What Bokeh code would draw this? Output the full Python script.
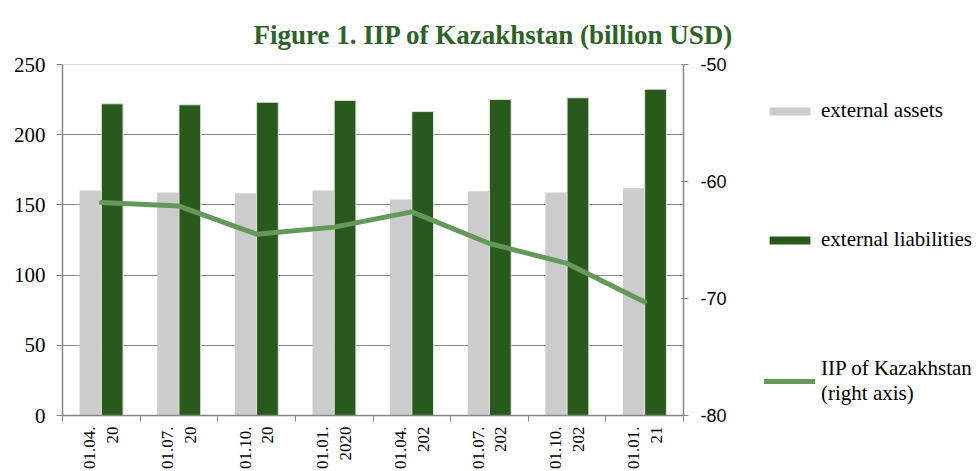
import math
from bokeh.plotting import figure
from bokeh.layouts import row
from bokeh.models import (Range1d, LinearAxis, FixedTicker, Legend, LegendItem,
                          ColumnDataSource)
from bokeh.transform import dodge
from bokeh.embed import file_html
from bokeh.resources import INLINE

# ---- data ----
date_line1 = ["01.04.", "01.07.", "01.10.", "01.01.", "01.04.", "01.07.", "01.10.", "01.01."]
date_line2 = ["20", "20", "20", "2020", "202", "202", "202", "21"]
external_assets = [160.3, 158.8, 158.3, 160.3, 153.8, 159.8, 158.8, 161.9]
external_liabilities = [222.0, 221.3, 223.1, 224.4, 216.5, 225.1, 226.3, 232.4]
iip = [-61.8, -62.1, -64.5, -63.9, -62.6, -65.3, -67.0, -70.3]
left_ticks = [0, 50, 100, 150, 200, 250]
right_ticks = [-80, -70, -60, -50]
legend_labels = ["external assets", "external liabilities", "IIP of Kazakhstan\n(right axis)"]

n = len(external_assets)
xc = [i + 0.5 for i in range(n)]
src = ColumnDataSource(dict(x=xc, assets=external_assets,
                            liab=external_liabilities, iip=iip))

AXIS = "#868686"
GRAY = "#cccccc"
DARK = "#285b1b"
LINE = "#65995a"
H = 466

p = figure(frame_width=621, frame_height=351,
           x_range=Range1d(0, n), y_range=Range1d(0, 250),
           output_backend="svg", toolbar_location=None,
           min_border_left=62, min_border_top=64,
           min_border_right=60, min_border_bottom=0)
p.extra_y_ranges = {"iip": Range1d(-80, -50)}
p.outline_line_color = "#d9d9d9"
p.background_fill_color = "white"
p.border_fill_color = "white"

# title
p.title.text = "Figure 1. IIP of Kazakhstan (billion USD)"
p.title.align = "left"
p.title.text_font = "Liberation Serif"
p.title.text_font_style = "bold"
p.title.text_font_size = "27px"
p.title.text_color = "#2e6327"
p.title.offset = 191
p.title.standoff = 30

# bars and line
p.vbar(x=dodge("x", -0.14, range=p.x_range), top="assets", width=0.28,
       source=src, fill_color=GRAY, line_color=None)
p.vbar(x=dodge("x", 0.14, range=p.x_range), top="liab", width=0.28,
       source=src, fill_color=DARK, line_color="#e3e3e3", line_width=1)
p.line(x="x", y="iip", source=src, y_range_name="iip",
       line_color=LINE, line_width=5, line_cap="round", line_join="round")

# x axis
xa = p.xaxis[0]
xa.ticker = FixedTicker(ticks=xc, minor_ticks=list(range(n + 1)))
xa.major_label_overrides = {x: f"{a}\n{b}" for x, a, b in zip(xc, date_line1, date_line2)}
xa.major_label_orientation = math.pi / 2
xa.major_tick_out = 0
xa.major_tick_in = 0
xa.minor_tick_out = 6
xa.minor_tick_in = 0
xa.minor_tick_line_color = AXIS
xa.axis_line_color = AXIS
xa.axis_line_width = 1.5
xa.major_label_standoff = 5
xa.major_label_text_font = "Liberation Serif"
xa.major_label_text_font_size = "17px"
xa.major_label_text_color = "black"

# left axis
ya = p.yaxis[0]
ya.ticker = FixedTicker(ticks=left_ticks)
ya.major_tick_out = 6
ya.major_tick_in = 0
ya.minor_tick_out = 0
ya.minor_tick_in = 0
ya.major_tick_line_color = AXIS
ya.axis_line_color = AXIS
ya.axis_line_width = 1.5
ya.major_label_standoff = 11
ya.major_label_text_font = "Liberation Serif"
ya.major_label_text_font_size = "21px"
ya.major_label_text_color = "black"

# right axis
ra = LinearAxis(y_range_name="iip", ticker=FixedTicker(ticks=right_ticks))
ra.major_label_overrides = {t: str(t) for t in right_ticks}
ra.major_tick_out = 5
ra.major_tick_in = 2
ra.minor_tick_out = 0
ra.minor_tick_in = 0
ra.major_tick_line_color = AXIS
ra.axis_line_color = AXIS
ra.axis_line_width = 1.5
ra.major_label_standoff = 12
ra.major_label_text_font = "Liberation Sans"
ra.major_label_text_font_size = "18px"
ra.major_label_text_color = "black"
p.add_layout(ra, "right")

# grid
p.xgrid.visible = False
p.ygrid.ticker = FixedTicker(ticks=left_ticks[1:-1])
p.ygrid.grid_line_color = "#878787"
p.ygrid.grid_line_width = 1.2

# ---- legend panel (separate figure to the right) ----
q = figure(width=977 - 743, height=H, x_range=Range1d(0, 1), y_range=Range1d(0, 1),
           x_axis_type=None, y_axis_type=None,
           output_backend="svg", toolbar_location=None,
           min_border=0)
q.outline_line_color = None
q.xgrid.visible = False
q.ygrid.visible = False
q.background_fill_color = "white"
q.border_fill_color = "white"
# hidden copies of the series, only used to draw the legend keys
k1 = q.vbar(x="x", top="assets", source=src, width=0.1, fill_color=GRAY,
            line_color=None, visible=False)
k2 = q.vbar(x="x", top="liab", source=src, width=0.1, fill_color=DARK,
            line_color=None, visible=False)
k3 = q.line(x="x", y="iip", source=src, line_color=LINE, line_width=5,
            line_cap="round", visible=False)

legend = Legend(items=[LegendItem(label=lab, renderers=[r])
                       for lab, r in zip(legend_labels, [k1, k2, k3])],
                location=(21, 3), orientation="vertical")
legend.border_line_color = None
legend.background_fill_alpha = 0
legend.inactive_fill_alpha = 0
legend.click_policy = "none"
legend.padding = 0
legend.margin = 0
legend.spacing = 104
legend.glyph_width = 51
legend.glyph_height = 10
legend.label_standoff = 6
legend.label_text_font = "Liberation Serif"
legend.label_text_font_size = "21px"
legend.label_text_color = "black"
q.add_layout(legend, "center")

layout = row(p, q, spacing=0)
open("out.html", "w").write(file_html(layout, INLINE))
